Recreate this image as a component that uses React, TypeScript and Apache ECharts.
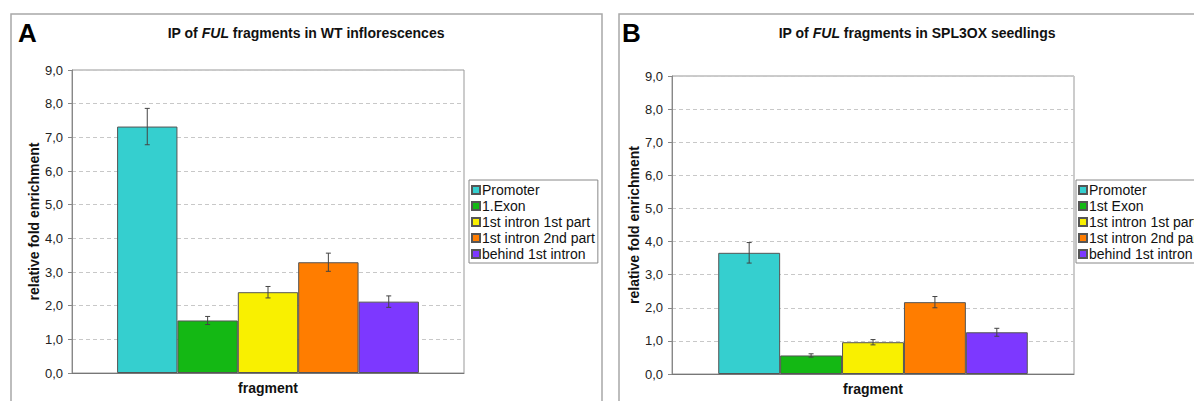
import React, { useEffect, useRef } from "react";
import * as echarts from "echarts";

const namesA = ["Promoter", "1.Exon", "1st intron 1st part", "1st intron 2nd part", "behind 1st intron"];
const namesB = ["Promoter", "1st Exon", "1st intron 1st part", "1st intron 2nd part", "behind 1st intron"];
const valuesA = [7.32, 1.56, 2.4, 3.29, 2.12];
const errorsA = [0.54, 0.12, 0.17, 0.27, 0.17];
const valuesB = [3.66, 0.56, 0.96, 2.17, 1.26];
const errorsB = [0.31, 0.05, 0.08, 0.17, 0.12];
const colors = ["#35CFCF", "#14B814", "#F9F000", "#FF7D00", "#7D38FF"];
const categories = [""];
const titleA = ["IP of ", "FUL", " fragments in WT inflorescences"];
const titleB = ["IP of ", "FUL", " fragments in SPL3OX seedlings"];
const yName = "relative fold enrichment";
const xName = "fragment";

const FONT = "'Liberation Sans', Arial, Helvetica, sans-serif";
const GAP = 0.23;

function makeBars(names: string[], values: number[], idx: number) {
  return names.map((n, i) => ({
    name: n,
    type: "bar",
    xAxisIndex: idx,
    yAxisIndex: idx,
    data: [values[i]],
    barGap: "0%",
    barCategoryGap: GAP * 100 + "%",
    itemStyle: { color: colors[i], borderColor: "#555", borderWidth: 1 },
    z: 2,
  }));
}

function makeErr(values: number[], errors: number[], idx: number) {
  return {
    type: "custom",
    xAxisIndex: idx,
    yAxisIndex: idx,
    z: 5,
    data: values.map((v, i) => [0, v, errors[i], i]),
    renderItem: (params: any, api: any) => {
      const x = api.value(0);
      const y = api.value(1);
      const e = api.value(2);
      const k = api.value(3);
      const c = api.coord([x, y]);
      const band = api.size([1, 0])[0];
      const bw = (band * (1 - GAP)) / 5;
      const cx = c[0] + (k - 2) * bw;
      const t = api.coord([x, y + e])[1];
      const b = api.coord([x, y - e])[1];
      const st = { stroke: "#444", lineWidth: 1 };
      return {
        type: "group",
        children: [
          { type: "line", shape: { x1: cx, y1: t, x2: cx, y2: b }, style: st },
          { type: "line", shape: { x1: cx - 2.5, y1: t, x2: cx + 2.5, y2: t }, style: st },
          { type: "line", shape: { x1: cx - 2.5, y1: b, x2: cx + 2.5, y2: b }, style: st },
        ],
      };
    },
  };
}

function yAxis(idx: number) {
  return {
    type: "value",
    gridIndex: idx,
    min: 0,
    max: 9,
    interval: 1,
    name: yName,
    nameLocation: "middle",
    nameGap: 29,
    nameTextStyle: { fontFamily: FONT, fontSize: 14, fontWeight: "bold", color: "#111" },
    axisLine: { show: true, lineStyle: { color: "#888", width: 1 } },
    axisTick: { show: true, length: 4, lineStyle: { color: "#888" } },
    axisLabel: {
      margin: 9,
      fontFamily: FONT,
      fontSize: 13,
      color: "#222",
      formatter: (v: number) => v.toFixed(1).replace(".", ","),
    },
    splitLine: { show: true, lineStyle: { color: "#c8c8c8", type: [4, 3], width: 1 } },
  };
}

function xAxis(idx: number) {
  return {
    type: "category",
    gridIndex: idx,
    data: categories,
    name: xName,
    nameLocation: "middle",
    nameGap: 8,
    nameTextStyle: {
      fontFamily: FONT,
      fontSize: 14,
      fontWeight: "bold",
      color: "#111",
      verticalAlign: "top",
    },
    axisLine: { show: true, lineStyle: { color: "#777", width: 1 } },
    axisTick: { show: false },
    axisLabel: { show: false },
  };
}

function legend(names: string[], left: number) {
  return {
    data: names,
    orient: "vertical",
    left,
    top: 180,
    itemWidth: 8,
    itemHeight: 8,
    itemGap: 0,
    padding: [2, 3, 1, 2],
    borderColor: "#888",
    borderWidth: 1,
    selectedMode: false,
    icon: "rect",
    textStyle: { fontFamily: FONT, fontSize: 14, lineHeight: 16, color: "#111", padding: [0, 0, 0, -3] },
  };
}

function title(parts: string[], cx: number) {
  return {
    type: "text",
    x: cx,
    y: 33,
    style: {
      text: `{b|${parts[0]}}{i|${parts[1]}}{b|${parts[2]}}`,
      align: "center",
      verticalAlign: "middle",
      rich: {
        b: { fontFamily: FONT, fontSize: 14, fontWeight: "bold", fill: "#111" },
        i: { fontFamily: FONT, fontSize: 14, fontWeight: "bold", fontStyle: "italic", fill: "#111" },
      },
    },
  };
}

export default function App() {
  const ref = useRef<HTMLDivElement>(null);
  useEffect(() => {
    if (!ref.current) return;
    const chart = echarts.init(ref.current, undefined, { renderer: "svg" });
    chart.setOption({
      animation: false,
      backgroundColor: "#fff",
      textStyle: { fontFamily: FONT },
      grid: [
        { left: 72, right: 1194 - 464, top: 70, bottom: 401 - 373, show: true, borderColor: "#999", borderWidth: 1 },
        { left: 672, right: 1194 - 1074, top: 76, bottom: 401 - 377.5, show: true, borderColor: "#999", borderWidth: 1 },
      ],
      xAxis: [xAxis(0), xAxis(1)],
      yAxis: [yAxis(0), yAxis(1)],
      legend: [legend(namesA, 469), legend(namesB, 1076)],
      series: [
        ...makeBars(namesA, valuesA, 0),
        ...makeBars(namesB, valuesB, 1),
        makeErr(valuesA, errorsA, 0),
        makeErr(valuesB, errorsB, 1),
      ],
      graphic: [
        { type: "rect", shape: { x: 11, y: 14, width: 591, height: 420 }, style: { fill: "none", stroke: "#a8a8a8", lineWidth: 1.5 }, z: -1 },
        { type: "rect", shape: { x: 619, y: 14, width: 700, height: 420 }, style: { fill: "none", stroke: "#a8a8a8", lineWidth: 1.5 }, z: -1 },
        { type: "text", x: 18, y: 33, style: { text: "A", fontFamily: FONT, fontSize: 26, fontWeight: "bold", fill: "#000", verticalAlign: "middle" } },
        { type: "text", x: 622, y: 33, style: { text: "B", fontFamily: FONT, fontSize: 26, fontWeight: "bold", fill: "#000", verticalAlign: "middle" } },
        title(titleA, 306),
        title(titleB, 917),
      ],
    });
    return () => chart.dispose();
  }, []);
  return (
    <div style={{ position: "absolute", left: 0, top: 0, width: 1194, height: 401, overflow: "hidden", background: "#fff" }}>
      <div ref={ref} style={{ width: 1194, height: 401 }} />
    </div>
  );
}
